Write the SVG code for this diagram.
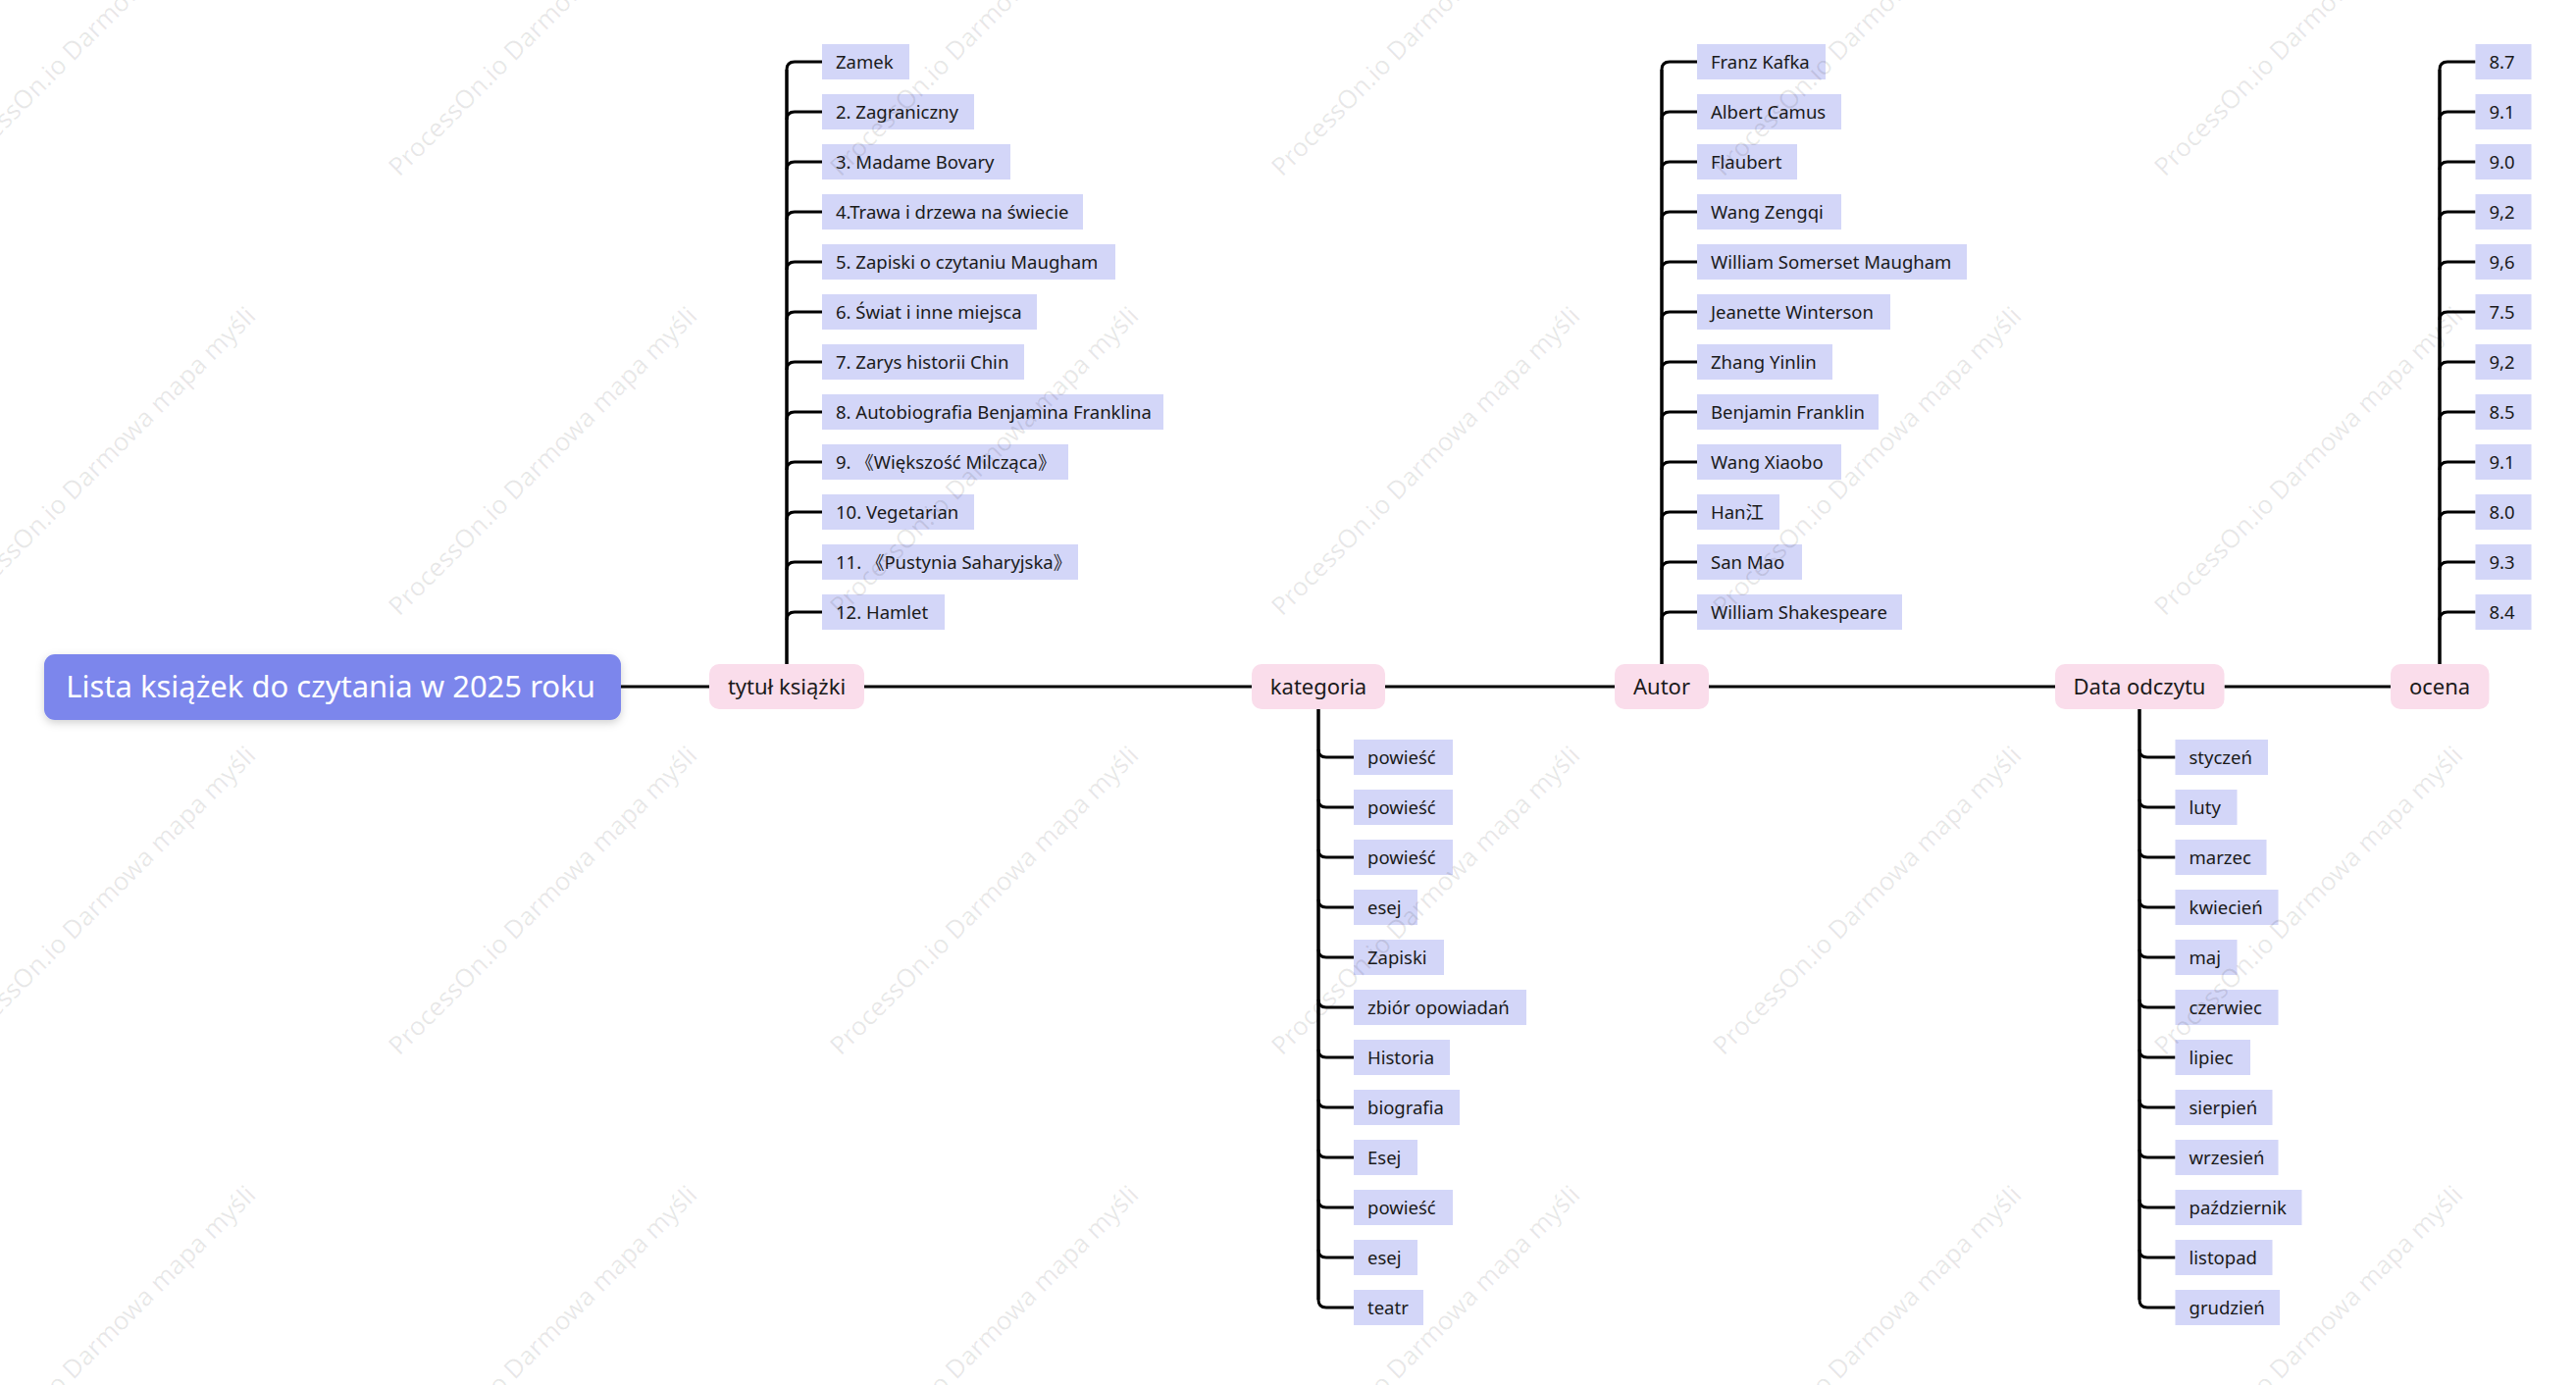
<svg xmlns="http://www.w3.org/2000/svg" width="2626" height="1412" viewBox="0 0 2626 1412">
<style>
text{font-family:"Noto Sans","Noto Sans CJK SC",sans-serif}
.leaf rect{fill:#D3D6F8}
.leaf text{font-size:18.5px;fill:#1a1a1a}
.topic rect{fill:#FADDEB}
.topic text{font-size:22px;fill:#1a1a1a;text-anchor:middle}
.root text{font-size:31px;fill:#ffffff;text-anchor:middle}
#connectors path{fill:none;stroke:#000;stroke-width:3}
#connectors .v{stroke-width:3.5}
.wm{font-size:26px;fill:#000;fill-opacity:0.09}
</style>
<defs>
<filter id="sh" x="-10%" y="-30%" width="120%" height="170%">
<feDropShadow dx="0" dy="3" stdDeviation="4" flood-color="#000" flood-opacity="0.18"/>
</filter>
</defs>
<rect width="2626" height="1412" fill="#ffffff"/>
<g id="connectors">
<path d="M633,700 H723 M881,700 H1276 M1412,700 H1646 M1742,700 H2095 M2267.5,700 H2437"/>
<path class="v" d="M802,677 V71"/>
<path d="M802,71 Q802,63 810,63 H838 M802,122 Q802,114 810,114 H838 M802,173 Q802,165 810,165 H838 M802,224 Q802,216 810,216 H838 M802,275 Q802,267 810,267 H838 M802,326 Q802,318 810,318 H838 M802,377 Q802,369 810,369 H838 M802,428 Q802,420 810,420 H838 M802,479 Q802,471 810,471 H838 M802,530 Q802,522 810,522 H838 M802,581 Q802,573 810,573 H838 M802,632 Q802,624 810,624 H838"/>
<path class="v" d="M1344,723 V1325"/>
<path d="M1344,764 Q1344,772 1352,772 H1380 M1344,815 Q1344,823 1352,823 H1380 M1344,866 Q1344,874 1352,874 H1380 M1344,917 Q1344,925 1352,925 H1380 M1344,968 Q1344,976 1352,976 H1380 M1344,1019 Q1344,1027 1352,1027 H1380 M1344,1070 Q1344,1078 1352,1078 H1380 M1344,1121 Q1344,1129 1352,1129 H1380 M1344,1172 Q1344,1180 1352,1180 H1380 M1344,1223 Q1344,1231 1352,1231 H1380 M1344,1274 Q1344,1282 1352,1282 H1380 M1344,1325 Q1344,1333 1352,1333 H1380"/>
<path class="v" d="M1694,677 V71"/>
<path d="M1694,71 Q1694,63 1702,63 H1730 M1694,122 Q1694,114 1702,114 H1730 M1694,173 Q1694,165 1702,165 H1730 M1694,224 Q1694,216 1702,216 H1730 M1694,275 Q1694,267 1702,267 H1730 M1694,326 Q1694,318 1702,318 H1730 M1694,377 Q1694,369 1702,369 H1730 M1694,428 Q1694,420 1702,420 H1730 M1694,479 Q1694,471 1702,471 H1730 M1694,530 Q1694,522 1702,522 H1730 M1694,581 Q1694,573 1702,573 H1730 M1694,632 Q1694,624 1702,624 H1730"/>
<path class="v" d="M2181,723 V1325"/>
<path d="M2181,764 Q2181,772 2189,772 H2217.5 M2181,815 Q2181,823 2189,823 H2217.5 M2181,866 Q2181,874 2189,874 H2217.5 M2181,917 Q2181,925 2189,925 H2217.5 M2181,968 Q2181,976 2189,976 H2217.5 M2181,1019 Q2181,1027 2189,1027 H2217.5 M2181,1070 Q2181,1078 2189,1078 H2217.5 M2181,1121 Q2181,1129 2189,1129 H2217.5 M2181,1172 Q2181,1180 2189,1180 H2217.5 M2181,1223 Q2181,1231 2189,1231 H2217.5 M2181,1274 Q2181,1282 2189,1282 H2217.5 M2181,1325 Q2181,1333 2189,1333 H2217.5"/>
<path class="v" d="M2487,677 V71"/>
<path d="M2487,71 Q2487,63 2495,63 H2523.5 M2487,122 Q2487,114 2495,114 H2523.5 M2487,173 Q2487,165 2495,165 H2523.5 M2487,224 Q2487,216 2495,216 H2523.5 M2487,275 Q2487,267 2495,267 H2523.5 M2487,326 Q2487,318 2495,318 H2523.5 M2487,377 Q2487,369 2495,369 H2523.5 M2487,428 Q2487,420 2495,420 H2523.5 M2487,479 Q2487,471 2495,471 H2523.5 M2487,530 Q2487,522 2495,522 H2523.5 M2487,581 Q2487,573 2495,573 H2523.5 M2487,632 Q2487,624 2495,624 H2523.5"/>
</g>
<g id="root" class="root"><rect x="45" y="667" width="588" height="67" rx="11" fill="#7B86EC" filter="url(#sh)"/><text x="337" y="711">Lista książek do czytania w 2025 roku</text></g>
<g id="topic-tytul" class="topic"><rect x="723" y="677" width="158" height="46" rx="10"/><text x="802" y="708">tytuł książki</text></g>
<g id="topic-kategoria" class="topic"><rect x="1276" y="677" width="136" height="46" rx="10"/><text x="1344" y="708">kategoria</text></g>
<g id="topic-autor" class="topic"><rect x="1646" y="677" width="96" height="46" rx="10"/><text x="1694" y="708">Autor</text></g>
<g id="topic-data" class="topic"><rect x="2095" y="677" width="172.5" height="46" rx="10"/><text x="2181" y="708">Data odczytu</text></g>
<g id="topic-ocena" class="topic"><rect x="2437" y="677" width="100.5" height="46" rx="10"/><text x="2487" y="708">ocena</text></g>
<g id="titles">
<g id="t1" class="leaf"><rect x="838" y="45" width="89" height="36"/><text x="852" y="70">Zamek</text></g>
<g id="t2" class="leaf"><rect x="838" y="96" width="155" height="36"/><text x="852" y="121">2. Zagraniczny</text></g>
<g id="t3" class="leaf"><rect x="838" y="147" width="192" height="36"/><text x="852" y="172">3. Madame Bovary</text></g>
<g id="t4" class="leaf"><rect x="838" y="198" width="266" height="36"/><text x="852" y="223">4.Trawa i drzewa na świecie</text></g>
<g id="t5" class="leaf"><rect x="838" y="249" width="299" height="36"/><text x="852" y="274">5. Zapiski o czytaniu Maugham</text></g>
<g id="t6" class="leaf"><rect x="838" y="300" width="219" height="36"/><text x="852" y="325">6. Świat i inne miejsca</text></g>
<g id="t7" class="leaf"><rect x="838" y="351" width="206" height="36"/><text x="852" y="376">7. Zarys historii Chin</text></g>
<g id="t8" class="leaf"><rect x="838" y="402" width="348" height="36"/><text x="852" y="427">8. Autobiografia Benjamina Franklina</text></g>
<g id="t9" class="leaf"><rect x="838" y="453" width="251" height="36"/><text x="852" y="478">9. 《Większość Milcząca》</text></g>
<g id="t10" class="leaf"><rect x="838" y="504" width="155" height="36"/><text x="852" y="529">10. Vegetarian</text></g>
<g id="t11" class="leaf"><rect x="838" y="555" width="261" height="36"/><text x="852" y="580">11. 《Pustynia Saharyjska》</text></g>
<g id="t12" class="leaf"><rect x="838" y="606" width="125" height="36"/><text x="852" y="631">12. Hamlet</text></g>
</g>
<g id="categories">
<g id="k1" class="leaf"><rect x="1380" y="754" width="101" height="36"/><text x="1394" y="779">powieść</text></g>
<g id="k2" class="leaf"><rect x="1380" y="805" width="101" height="36"/><text x="1394" y="830">powieść</text></g>
<g id="k3" class="leaf"><rect x="1380" y="856" width="101" height="36"/><text x="1394" y="881">powieść</text></g>
<g id="k4" class="leaf"><rect x="1380" y="907" width="65" height="36"/><text x="1394" y="932">esej</text></g>
<g id="k5" class="leaf"><rect x="1380" y="958" width="92" height="36"/><text x="1394" y="983">Zapiski</text></g>
<g id="k6" class="leaf"><rect x="1380" y="1009" width="176" height="36"/><text x="1394" y="1034">zbiór opowiadań</text></g>
<g id="k7" class="leaf"><rect x="1380" y="1060" width="98" height="36"/><text x="1394" y="1085">Historia</text></g>
<g id="k8" class="leaf"><rect x="1380" y="1111" width="108" height="36"/><text x="1394" y="1136">biografia</text></g>
<g id="k9" class="leaf"><rect x="1380" y="1162" width="65" height="36"/><text x="1394" y="1187">Esej</text></g>
<g id="k10" class="leaf"><rect x="1380" y="1213" width="101" height="36"/><text x="1394" y="1238">powieść</text></g>
<g id="k11" class="leaf"><rect x="1380" y="1264" width="65" height="36"/><text x="1394" y="1289">esej</text></g>
<g id="k12" class="leaf"><rect x="1380" y="1315" width="71" height="36"/><text x="1394" y="1340">teatr</text></g>
</g>
<g id="authors">
<g id="a1" class="leaf"><rect x="1730" y="45" width="131" height="36"/><text x="1744" y="70">Franz Kafka</text></g>
<g id="a2" class="leaf"><rect x="1730" y="96" width="147" height="36"/><text x="1744" y="121">Albert Camus</text></g>
<g id="a3" class="leaf"><rect x="1730" y="147" width="102" height="36"/><text x="1744" y="172">Flaubert</text></g>
<g id="a4" class="leaf"><rect x="1730" y="198" width="147" height="36"/><text x="1744" y="223">Wang Zengqi</text></g>
<g id="a5" class="leaf"><rect x="1730" y="249" width="275" height="36"/><text x="1744" y="274">William Somerset Maugham</text></g>
<g id="a6" class="leaf"><rect x="1730" y="300" width="197" height="36"/><text x="1744" y="325">Jeanette Winterson</text></g>
<g id="a7" class="leaf"><rect x="1730" y="351" width="138" height="36"/><text x="1744" y="376">Zhang Yinlin</text></g>
<g id="a8" class="leaf"><rect x="1730" y="402" width="185" height="36"/><text x="1744" y="427">Benjamin Franklin</text></g>
<g id="a9" class="leaf"><rect x="1730" y="453" width="147" height="36"/><text x="1744" y="478">Wang Xiaobo</text></g>
<g id="a10" class="leaf"><rect x="1730" y="504" width="84" height="36"/><text x="1744" y="529">Han江</text></g>
<g id="a11" class="leaf"><rect x="1730" y="555" width="107" height="36"/><text x="1744" y="580">San Mao</text></g>
<g id="a12" class="leaf"><rect x="1730" y="606" width="209" height="36"/><text x="1744" y="631">William Shakespeare</text></g>
</g>
<g id="dates">
<g id="d1" class="leaf"><rect x="2217.5" y="754" width="94.5" height="36"/><text x="2231.5" y="779">styczeń</text></g>
<g id="d2" class="leaf"><rect x="2217.5" y="805" width="63" height="36"/><text x="2231.5" y="830">luty</text></g>
<g id="d3" class="leaf"><rect x="2217.5" y="856" width="93" height="36"/><text x="2231.5" y="881">marzec</text></g>
<g id="d4" class="leaf"><rect x="2217.5" y="907" width="105" height="36"/><text x="2231.5" y="932">kwiecień</text></g>
<g id="d5" class="leaf"><rect x="2217.5" y="958" width="63" height="36"/><text x="2231.5" y="983">maj</text></g>
<g id="d6" class="leaf"><rect x="2217.5" y="1009" width="105" height="36"/><text x="2231.5" y="1034">czerwiec</text></g>
<g id="d7" class="leaf"><rect x="2217.5" y="1060" width="76.5" height="36"/><text x="2231.5" y="1085">lipiec</text></g>
<g id="d8" class="leaf"><rect x="2217.5" y="1111" width="99" height="36"/><text x="2231.5" y="1136">sierpień</text></g>
<g id="d9" class="leaf"><rect x="2217.5" y="1162" width="105" height="36"/><text x="2231.5" y="1187">wrzesień</text></g>
<g id="d10" class="leaf"><rect x="2217.5" y="1213" width="129" height="36"/><text x="2231.5" y="1238">październik</text></g>
<g id="d11" class="leaf"><rect x="2217.5" y="1264" width="99" height="36"/><text x="2231.5" y="1289">listopad</text></g>
<g id="d12" class="leaf"><rect x="2217.5" y="1315" width="106.5" height="36"/><text x="2231.5" y="1340">grudzień</text></g>
</g>
<g id="ratings">
<g id="r1" class="leaf"><rect x="2523.5" y="45" width="57" height="36"/><text x="2537.5" y="70">8.7</text></g>
<g id="r2" class="leaf"><rect x="2523.5" y="96" width="57" height="36"/><text x="2537.5" y="121">9.1</text></g>
<g id="r3" class="leaf"><rect x="2523.5" y="147" width="57" height="36"/><text x="2537.5" y="172">9.0</text></g>
<g id="r4" class="leaf"><rect x="2523.5" y="198" width="57" height="36"/><text x="2537.5" y="223">9,2</text></g>
<g id="r5" class="leaf"><rect x="2523.5" y="249" width="57" height="36"/><text x="2537.5" y="274">9,6</text></g>
<g id="r6" class="leaf"><rect x="2523.5" y="300" width="57" height="36"/><text x="2537.5" y="325">7.5</text></g>
<g id="r7" class="leaf"><rect x="2523.5" y="351" width="57" height="36"/><text x="2537.5" y="376">9,2</text></g>
<g id="r8" class="leaf"><rect x="2523.5" y="402" width="57" height="36"/><text x="2537.5" y="427">8.5</text></g>
<g id="r9" class="leaf"><rect x="2523.5" y="453" width="57" height="36"/><text x="2537.5" y="478">9.1</text></g>
<g id="r10" class="leaf"><rect x="2523.5" y="504" width="57" height="36"/><text x="2537.5" y="529">8.0</text></g>
<g id="r11" class="leaf"><rect x="2523.5" y="555" width="57" height="36"/><text x="2537.5" y="580">9.3</text></g>
<g id="r12" class="leaf"><rect x="2523.5" y="606" width="57" height="36"/><text x="2537.5" y="631">8.4</text></g>
</g>
<g id="watermark">
<text class="wm" transform="translate(-43,181) rotate(-45)">ProcessOn.io Darmowa mapa myśli</text>
<text class="wm" transform="translate(407,181) rotate(-45)">ProcessOn.io Darmowa mapa myśli</text>
<text class="wm" transform="translate(857,181) rotate(-45)">ProcessOn.io Darmowa mapa myśli</text>
<text class="wm" transform="translate(1307,181) rotate(-45)">ProcessOn.io Darmowa mapa myśli</text>
<text class="wm" transform="translate(1757,181) rotate(-45)">ProcessOn.io Darmowa mapa myśli</text>
<text class="wm" transform="translate(2207,181) rotate(-45)">ProcessOn.io Darmowa mapa myśli</text>
<text class="wm" transform="translate(-43,629) rotate(-45)">ProcessOn.io Darmowa mapa myśli</text>
<text class="wm" transform="translate(407,629) rotate(-45)">ProcessOn.io Darmowa mapa myśli</text>
<text class="wm" transform="translate(857,629) rotate(-45)">ProcessOn.io Darmowa mapa myśli</text>
<text class="wm" transform="translate(1307,629) rotate(-45)">ProcessOn.io Darmowa mapa myśli</text>
<text class="wm" transform="translate(1757,629) rotate(-45)">ProcessOn.io Darmowa mapa myśli</text>
<text class="wm" transform="translate(2207,629) rotate(-45)">ProcessOn.io Darmowa mapa myśli</text>
<text class="wm" transform="translate(-43,1077) rotate(-45)">ProcessOn.io Darmowa mapa myśli</text>
<text class="wm" transform="translate(407,1077) rotate(-45)">ProcessOn.io Darmowa mapa myśli</text>
<text class="wm" transform="translate(857,1077) rotate(-45)">ProcessOn.io Darmowa mapa myśli</text>
<text class="wm" transform="translate(1307,1077) rotate(-45)">ProcessOn.io Darmowa mapa myśli</text>
<text class="wm" transform="translate(1757,1077) rotate(-45)">ProcessOn.io Darmowa mapa myśli</text>
<text class="wm" transform="translate(2207,1077) rotate(-45)">ProcessOn.io Darmowa mapa myśli</text>
<text class="wm" transform="translate(-43,1525) rotate(-45)">ProcessOn.io Darmowa mapa myśli</text>
<text class="wm" transform="translate(407,1525) rotate(-45)">ProcessOn.io Darmowa mapa myśli</text>
<text class="wm" transform="translate(857,1525) rotate(-45)">ProcessOn.io Darmowa mapa myśli</text>
<text class="wm" transform="translate(1307,1525) rotate(-45)">ProcessOn.io Darmowa mapa myśli</text>
<text class="wm" transform="translate(1757,1525) rotate(-45)">ProcessOn.io Darmowa mapa myśli</text>
<text class="wm" transform="translate(2207,1525) rotate(-45)">ProcessOn.io Darmowa mapa myśli</text>
</g>
</svg>
